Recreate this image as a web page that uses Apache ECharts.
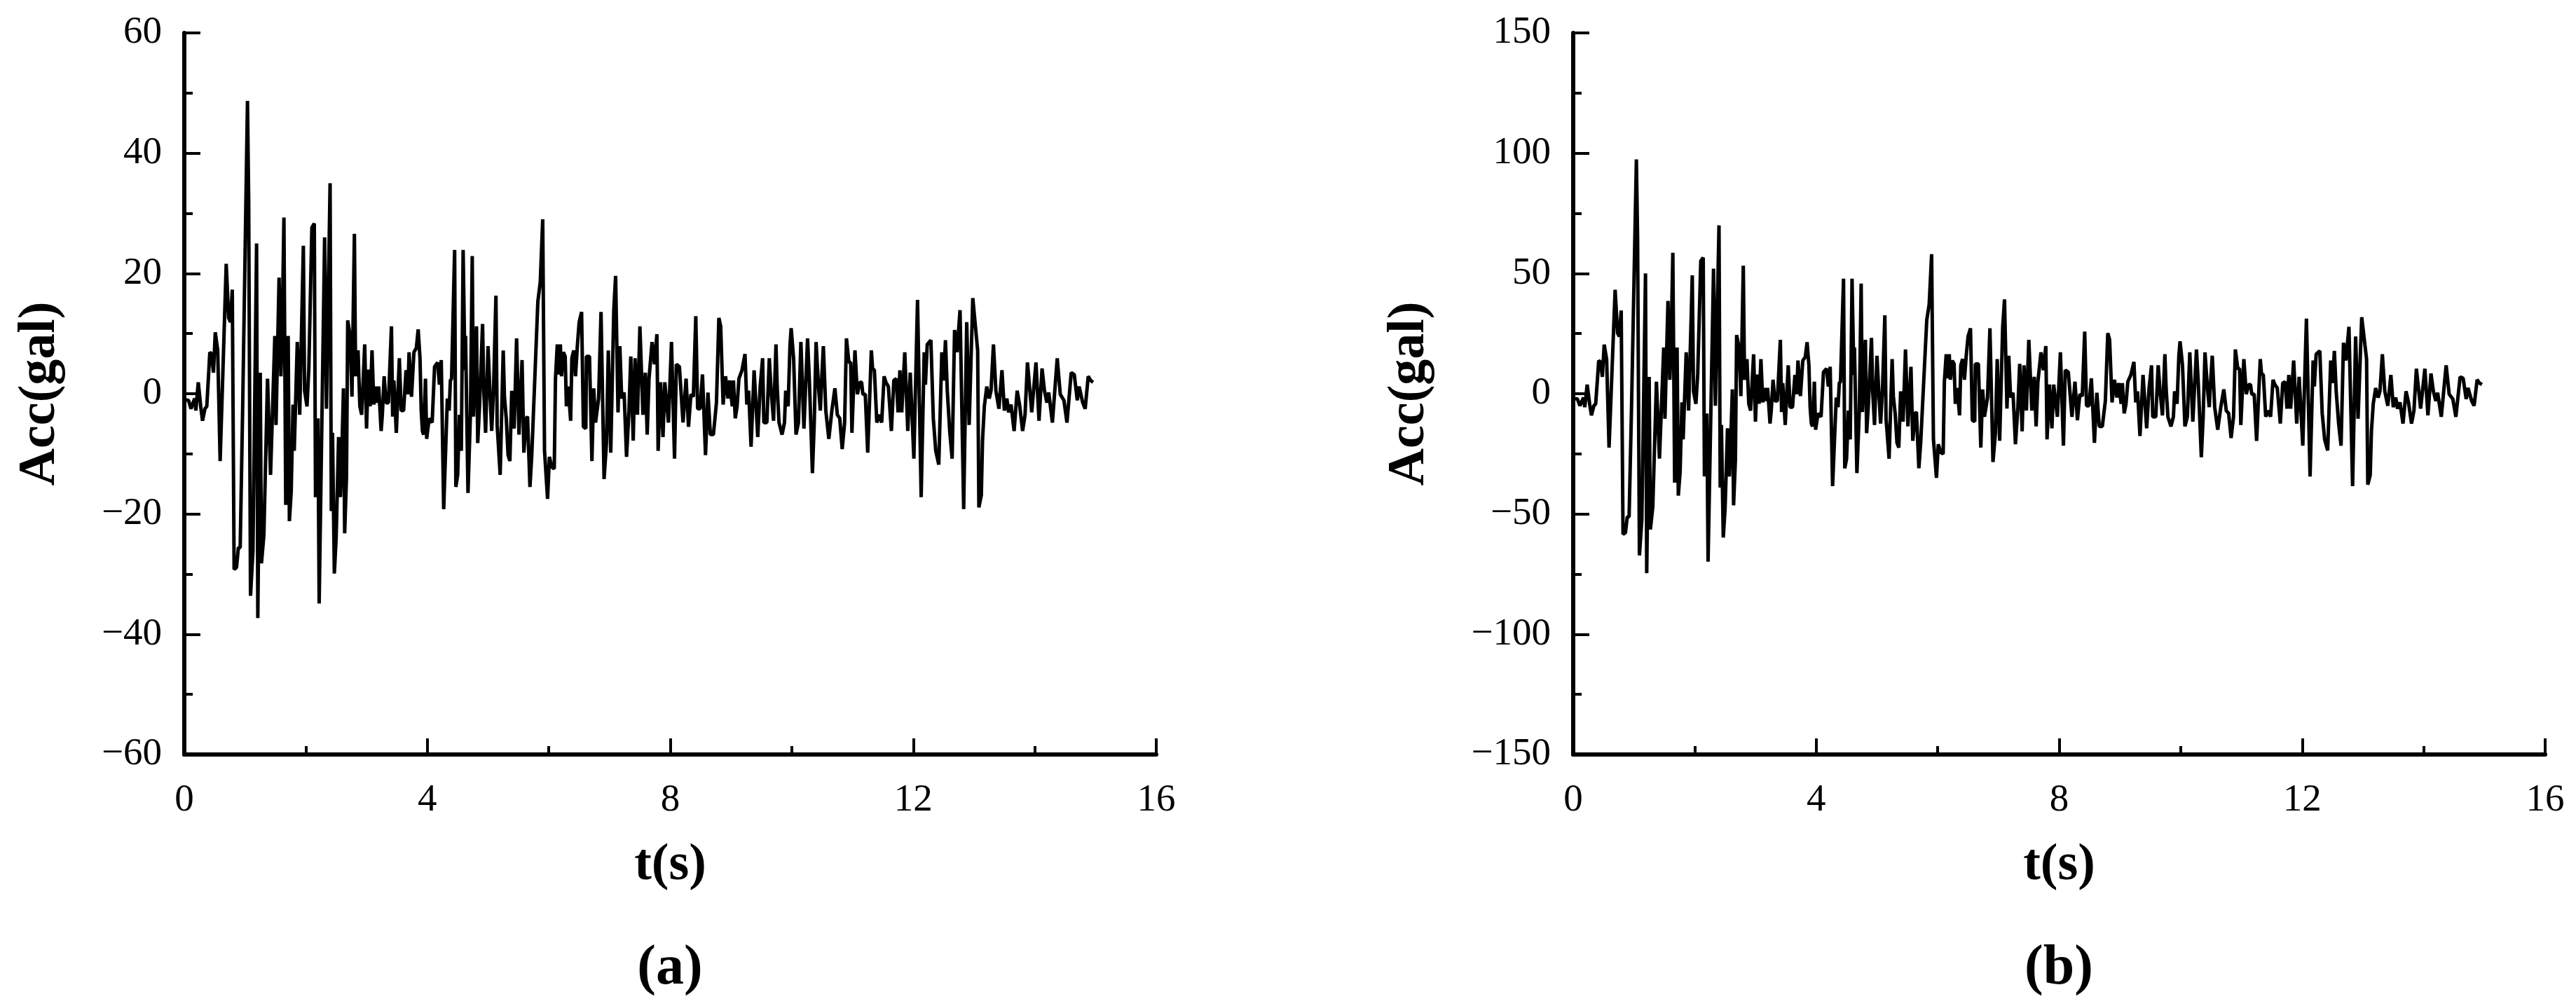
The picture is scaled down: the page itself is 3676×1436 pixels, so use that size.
<!DOCTYPE html>
<html>
<head>
<meta charset="utf-8">
<script src="https://cdn.jsdelivr.net/npm/echarts@6/dist/echarts.min.js"></script>
<style>
html,body{margin:0;padding:0;background:#fff;}
#chart{width:3676px;height:1436px;}
</style>
</head>
<body>
<div id="chart"></div>
<script>
// time (s), shared by both records
const timeS = [
0.00,0.07,0.11,0.17,0.19,0.23,0.27,0.30,0.34,0.37,
0.40,0.42,0.45,0.48,0.51,0.55,0.59,0.69,0.73,0.76,
0.79,0.82,0.86,0.89,0.92,0.96,1.04,1.06,1.09,1.13,
1.19,1.21,1.25,1.27,1.31,1.37,1.42,1.49,1.51,1.56,
1.59,1.61,1.64,1.67,1.71,1.73,1.76,1.79,1.81,1.86,
1.90,1.96,1.98,2.02,2.05,2.10,2.14,2.16,2.20,2.22,
2.31,2.34,2.40,2.42,2.44,2.47,2.50,2.54,2.57,2.60,
2.62,2.64,2.67,2.69,2.73,2.76,2.80,2.82,2.86,2.89,
2.92,2.97,3.00,3.03,3.06,3.09,3.12,3.15,3.17,3.20,
3.24,3.26,3.29,3.32,3.36,3.41,3.43,3.45,3.49,3.54,
3.57,3.61,3.65,3.68,3.70,3.74,3.78,3.82,3.85,3.88,
3.90,3.92,3.94,3.97,3.99,4.03,4.08,4.12,4.17,4.20,
4.23,4.27,4.29,4.33,4.36,4.38,4.40,4.45,4.47,4.50,
4.53,4.56,4.59,4.62,4.63,4.67,4.71,4.74,4.76,4.81,
4.83,4.86,4.91,4.93,4.96,5.00,5.03,5.06,5.09,5.13,
5.15,5.20,5.25,5.27,5.30,5.33,5.36,5.39,5.43,5.47,
5.49,5.51,5.56,5.59,5.63,5.65,5.69,5.72,5.82,5.86,
5.90,5.93,5.98,6.01,6.05,6.09,6.11,6.14,6.16,6.19,
6.21,6.24,6.27,6.29,6.32,6.36,6.38,6.41,6.44,6.47,
6.50,6.54,6.57,6.61,6.62,6.67,6.71,6.74,6.77,6.82,
6.86,6.91,6.95,6.98,7.02,7.07,7.10,7.14,7.17,7.20,
7.24,7.28,7.32,7.35,7.39,7.42,7.46,7.50,7.55,7.59,
7.62,7.65,7.70,7.74,7.78,7.80,7.84,7.88,7.91,7.97,
8.02,8.07,8.10,8.15,8.21,8.26,8.30,8.34,8.38,8.42,
8.45,8.49,8.53,8.58,8.62,8.66,8.71,8.76,8.80,8.83,
8.87,8.91,8.95,8.98,9.02,9.04,9.07,9.10,9.13,9.18,
9.23,9.26,9.29,9.33,9.38,9.44,9.48,9.52,9.54,9.59,
9.63,9.66,9.70,9.74,9.76,9.79,9.84,9.88,9.90,9.94,
9.97,9.99,10.03,10.07,10.11,10.15,10.20,10.22,10.26,10.29,
10.34,10.37,10.40,10.44,10.47,10.49,10.52,10.56,10.61,10.66,
10.71,10.75,10.79,10.83,10.87,10.90,10.94,10.97,10.99,11.04,
11.08,11.12,11.15,11.17,11.21,11.25,11.31,11.33,11.36,11.40,
11.44,11.48,11.52,11.55,11.59,11.64,11.68,11.72,11.75,11.78,
11.81,11.86,11.91,11.95,12.01,12.07,12.13,12.18,12.20,12.23,
12.29,12.33,12.37,12.42,12.47,12.50,12.53,12.56,12.60,12.64,
12.68,12.72,12.77,12.83,12.88,12.92,12.98,13.06,13.08,13.12,
13.14,13.17,13.21,13.25,13.28,13.32,13.36,13.41,13.46,13.50,
13.54,13.57,13.61,13.66,13.71,13.75,13.80,13.84,13.88,13.95,
14.02,14.07,14.12,14.16,14.20,14.23,14.29,14.37,14.42,14.48,
14.53,14.60,14.65,14.70,14.73,14.79,14.83,14.88,14.92,14.96
];

// panel (a) acceleration (gal)
const accA = [
-1.0,-1.1,-2.5,-0.8,-2.8,1.9,-2.1,-4.5,-2.5,-2.1,
3.2,6.9,6.6,3.5,10.2,7.2,-11.2,21.6,12.6,11.9,
17.3,-29.2,-28.9,-25.6,-25.6,-2.8,48.7,32.0,-33.6,-26.2,
25.0,-37.3,3.5,-28.2,-23.5,2.5,-13.5,9.6,-5.2,19.3,
2.9,9.6,29.3,-18.5,9.6,-21.2,-16.2,-1.8,-9.5,8.6,
-3.5,24.6,0.5,-2.1,4.2,27.6,28.3,-17.2,-4.1,-34.9,
26.0,-2.5,35.0,-19.5,-6.5,-29.9,-23.9,-7.2,-17.2,-7.2,
0.9,-23.2,-13.8,12.2,9.6,-0.5,26.6,2.9,7.2,-2.1,
-3.5,8.2,-5.8,4.0,-2.1,7.2,-1.8,1.2,-1.5,1.2,
-6.2,-3.5,2.9,-1.5,-1.5,11.2,-3.8,2.2,-6.5,5.9,
-2.8,-2.8,3.9,-0.1,6.9,-0.5,6.9,7.6,10.7,5.9,
-2.8,-6.2,-6.8,2.5,-7.5,-4.1,-4.8,4.5,5.2,1.5,
5.6,-19.2,-19.2,-0.8,-2.8,2.2,2.5,23.9,-15.5,-13.5,
-3.5,-9.5,23.9,3.9,9.6,-16.5,-3.5,22.9,-3.8,11.2,
-8.2,-2.1,11.6,0.5,-6.5,7.9,0.5,-6.2,0.5,16.3,
-5.2,-13.5,7.2,-0.5,-4.1,-10.2,-11.2,0.5,-5.8,9.2,
9.2,-6.8,5.6,-9.8,-4.1,-3.8,-15.5,-10.2,15.3,18.6,
29.0,-9.5,-17.5,-10.5,-12.2,-12.5,2.5,8.2,3.2,8.2,
2.9,6.9,6.2,-2.1,1.2,-4.5,5.9,7.2,2.9,7.9,
11.9,13.6,-5.5,-5.8,6.2,6.2,-11.2,0.9,-4.8,-0.8,
13.6,-14.2,-8.2,7.2,-9.8,13.9,19.6,-3.1,7.9,-0.8,
0.2,-10.5,-2.8,6.2,-7.8,5.9,-3.5,11.2,-3.5,3.5,
-6.8,2.5,8.6,4.9,9.9,-9.5,1.9,-7.2,1.9,-4.8,
8.6,-10.8,4.9,4.5,-4.8,2.5,-5.5,-0.1,-0.5,12.9,
-2.5,-2.5,3.2,-10.2,0.2,-6.8,-6.8,-1.5,12.6,11.2,
-1.8,2.9,-0.8,2.2,-2.1,2.2,-4.1,-2.1,2.5,3.9,
6.6,-1.8,0.5,-8.8,3.9,-7.2,1.2,5.9,-4.8,-4.8,
5.9,0.5,-4.5,8.2,1.2,-4.8,-6.8,-4.8,0.5,-2.1,
7.9,10.9,5.9,-6.8,-4.8,8.6,-5.8,-5.8,9.2,2.2,
-13.2,-4.8,8.6,1.2,-2.8,1.9,7.9,-2.8,-7.5,-2.8,
0.9,-3.5,-4.1,-9.2,-4.8,9.2,5.2,5.2,-6.5,7.2,
-0.1,1.9,1.9,-0.1,-0.1,-9.8,7.2,4.2,3.9,-4.8,
-3.5,-4.8,2.9,1.9,1.2,-6.2,2.2,2.5,-3.1,3.9,
-3.1,6.9,-6.2,3.5,-10.8,15.6,-17.2,6.9,1.5,8.2,
8.9,-4.1,-9.5,-11.8,6.9,2.2,8.9,0.5,-6.2,-10.8,
10.6,6.9,13.9,-19.2,11.9,-5.2,15.9,7.2,-18.9,-16.9,
-7.8,-2.1,1.2,-0.8,0.5,8.2,0.5,-2.5,3.9,-2.8,
-0.8,-3.1,-1.8,-6.2,0.5,-1.8,-6.2,-3.5,5.2,-3.1,
5.2,-4.5,4.2,0.5,-1.5,0.2,-4.8,5.9,-0.1,-1.1,
-4.8,3.5,3.2,-1.1,1.2,-1.5,-2.5,2.9,2.2,1.9
];

// panel (b) acceleration (gal)
const accB = [
-2.0,-2.2,-5.0,-1.6,-5.6,3.8,-4.2,-9.0,-5.0,-4.2,
6.4,13.8,13.2,7.0,20.4,14.4,-22.4,43.2,25.2,23.8,
34.6,-58.4,-57.8,-51.2,-51.2,-5.6,97.4,64.0,-67.2,-52.4,
50.0,-74.6,7.0,-56.4,-47.0,5.0,-27.0,19.2,-10.4,38.6,
5.8,19.2,58.6,-37.0,19.2,-42.4,-32.4,-3.6,-19.0,17.2,
-7.0,49.2,1.0,-4.2,8.4,55.2,56.6,-34.4,-8.2,-69.8,
52.0,-5.0,70.0,-39.0,-13.0,-59.8,-47.8,-14.4,-34.4,-14.4,
1.8,-46.4,-27.6,24.4,19.2,-1.0,53.2,5.8,14.4,-4.2,
-7.0,16.4,-11.6,8.0,-4.2,14.4,-3.6,2.4,-3.0,2.4,
-12.4,-7.0,5.8,-3.0,-3.0,22.4,-7.6,4.4,-13.0,11.8,
-5.6,-5.6,7.8,-0.2,13.8,-1.0,13.8,15.2,21.4,11.8,
-5.6,-12.4,-13.6,5.0,-15.0,-8.2,-9.6,9.0,10.4,3.0,
11.2,-38.4,-38.4,-1.6,-5.6,4.4,5.0,47.8,-31.0,-27.0,
-7.0,-19.0,47.8,7.8,19.2,-33.0,-7.0,45.8,-7.6,22.4,
-16.4,-4.2,23.2,1.0,-13.0,15.8,1.0,-12.4,1.0,32.6,
-10.4,-27.0,14.4,-1.0,-8.2,-20.4,-22.4,1.0,-11.6,18.4,
18.4,-13.6,11.2,-19.6,-8.2,-7.6,-31.0,-20.4,30.6,37.2,
58.0,-19.0,-35.0,-21.0,-24.4,-25.0,5.0,16.4,6.4,16.4,
5.8,13.8,12.4,-4.2,2.4,-9.0,11.8,14.4,5.8,15.8,
23.8,27.2,-11.0,-11.6,12.4,12.4,-22.4,1.8,-9.6,-1.6,
27.2,-28.4,-16.4,14.4,-19.6,27.8,39.2,-6.2,15.8,-1.6,
0.4,-21.0,-5.6,12.4,-15.6,11.8,-7.0,22.4,-7.0,7.0,
-13.6,5.0,17.2,9.8,19.8,-19.0,3.8,-14.4,3.8,-9.6,
17.2,-21.6,9.8,9.0,-9.6,5.0,-11.0,-0.2,-1.0,25.8,
-5.0,-5.0,6.4,-20.4,0.4,-13.6,-13.6,-3.0,25.2,22.4,
-3.6,5.8,-1.6,4.4,-4.2,4.4,-8.2,-4.2,5.0,7.8,
13.2,-3.6,1.0,-17.6,7.8,-14.4,2.4,11.8,-9.6,-9.6,
11.8,1.0,-9.0,16.4,2.4,-9.6,-13.6,-9.6,1.0,-4.2,
15.8,21.8,11.8,-13.6,-9.6,17.2,-11.6,-11.6,18.4,4.4,
-26.4,-9.6,17.2,2.4,-5.6,3.8,15.8,-5.6,-15.0,-5.6,
1.8,-7.0,-8.2,-18.4,-9.6,18.4,10.4,10.4,-13.0,14.4,
-0.2,3.8,3.8,-0.2,-0.2,-19.6,14.4,8.4,7.8,-9.6,
-7.0,-9.6,5.8,3.8,2.4,-12.4,4.4,5.0,-6.2,7.8,
-6.2,13.8,-12.4,7.0,-21.6,31.2,-34.4,13.8,3.0,16.4,
17.8,-8.2,-19.0,-23.6,13.8,4.4,17.8,1.0,-12.4,-21.6,
21.2,13.8,27.8,-38.4,23.8,-10.4,31.8,14.4,-37.8,-33.8,
-15.6,-4.2,2.4,-1.6,1.0,16.4,1.0,-5.0,7.8,-5.6,
-1.6,-6.2,-3.6,-12.4,1.0,-3.6,-12.4,-7.0,10.4,-6.2,
10.4,-9.0,8.4,1.0,-3.0,0.4,-9.6,11.8,-0.2,-2.2,
-9.6,7.0,6.4,-2.2,2.4,-3.0,-5.0,5.8,4.4,3.8
];

const panelLabels = ['a', 'b'];
const xName = 't(s)';
const yName = 'Acc(gal)';
const xRange = {min: 0, max: 16, interval: 4};
const yRangeA = {min: -60, max: 60, interval: 20};
const yRangeB = {min: -150, max: 150, interval: 50};

const SERIF = '"Liberation Serif","Times New Roman",serif';
const fmt = v => (v < 0 ? '\u2212' + Math.abs(v) : String(v));

function xAxisCfg(gi) {
  return {
    type: 'value', gridIndex: gi, min: xRange.min, max: xRange.max, interval: xRange.interval,
    name: xName, nameLocation: 'middle', nameGap: 122,
    nameTextStyle: {fontFamily: SERIF, fontWeight: 'bold', fontSize: 74, color: '#000'},
    axisLine: {show: true, onZero: false, lineStyle: {color: '#000', width: 6}},
    axisTick: {show: true, inside: true, length: 23, lineStyle: {color: '#000', width: 4}},
    minorTick: {show: true, splitNumber: 2, length: 12, lineStyle: {color: '#000', width: 4}},
    splitLine: {show: false}, minorSplitLine: {show: false},
    axisLabel: {margin: 38, fontFamily: SERIF, fontSize: 55, color: '#000', formatter: fmt}
  };
}
function yAxisCfg(gi, r, gap) {
  return {
    type: 'value', gridIndex: gi, min: r.min, max: r.max, interval: r.interval,
    name: yName, nameLocation: 'middle', nameGap: gap,
    nameTextStyle: {fontFamily: SERIF, fontWeight: 'bold', fontSize: 74, color: '#000'},
    axisLine: {show: true, onZero: false, lineStyle: {color: '#000', width: 6}},
    axisTick: {show: true, inside: true, length: 23, lineStyle: {color: '#000', width: 4}},
    minorTick: {show: true, splitNumber: 2, length: 12, lineStyle: {color: '#000', width: 4}},
    splitLine: {show: false}, minorSplitLine: {show: false},
    axisLabel: {margin: 32, fontFamily: SERIF, fontSize: 55, color: '#000', formatter: fmt}
  };
}
function titleCfg(label, cx) {
  return {
    text: '{p|(}{b|' + label + '}{p|)}', left: cx, top: 1343, textAlign: 'center', padding: 0,
    textStyle: {rich: {
      p: {fontFamily: SERIF, fontSize: 80, color: '#000'},
      b: {fontFamily: SERIF, fontSize: 80, fontWeight: 'bold', color: '#000'}
    }}
  };
}

const chart = echarts.init(document.getElementById('chart'), null, {renderer: 'canvas'});
chart.setOption({
  backgroundColor: '#fff',
  animation: false,
  title: [titleCfg(panelLabels[0], 956), titleCfg(panelLabels[1], 2938)],
  grid: [
    {left: 263, top: 47, width: 1387, height: 1030},
    {left: 2245, top: 47, width: 1387, height: 1030}
  ],
  xAxis: [xAxisCfg(0), xAxisCfg(1)],
  yAxis: [yAxisCfg(0, yRangeA, 168), yAxisCfg(1, yRangeB, 196)],
  series: [
    {type: 'line', xAxisIndex: 0, yAxisIndex: 0, showSymbol: false, symbol: 'none',
     lineStyle: {color: '#000', width: 5}, data: timeS.map((t, i) => [t, accA[i]])},
    {type: 'line', xAxisIndex: 1, yAxisIndex: 1, showSymbol: false, symbol: 'none',
     lineStyle: {color: '#000', width: 5}, data: timeS.map((t, i) => [t, accB[i]])}
  ]
});
</script>
</body>
</html>
